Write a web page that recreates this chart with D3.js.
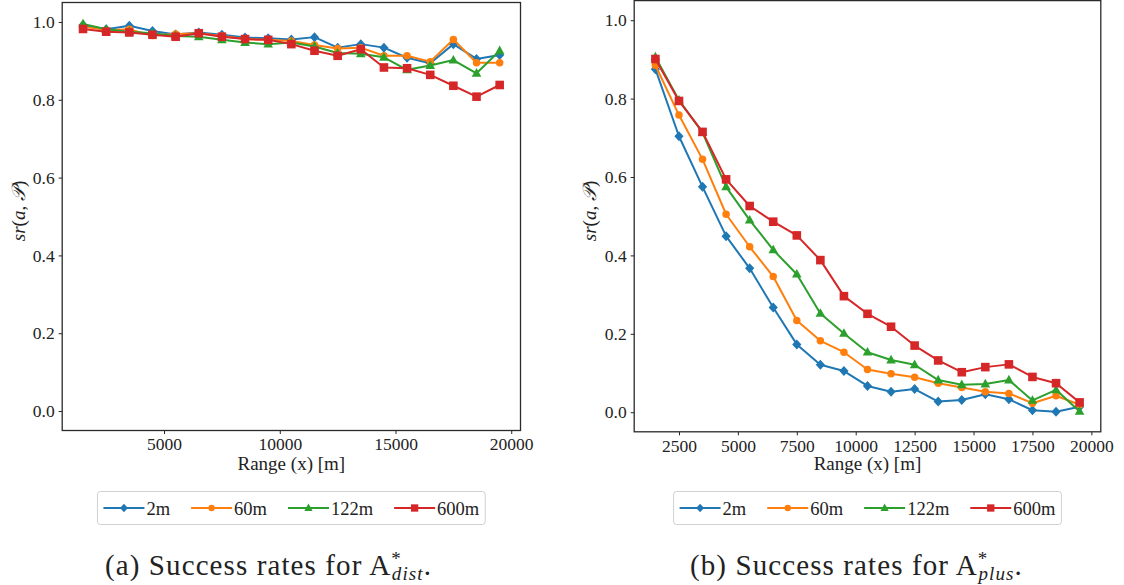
<!DOCTYPE html>
<html>
<head>
<meta charset="utf-8">
<script src="https://cdn.jsdelivr.net/npm/d3@7"></script>
<style>
  html, body { margin: 0; padding: 0; background: #fff; }
  svg { display: block; }
  text { font-family: "Liberation Serif", "DejaVu Serif", serif; fill: #222; }
</style>
</head>
<body>
<svg id="fig" width="1124" height="585"></svg>
<script>
// Range bins (m), shared by both panels
const ranges = [1500, 2500, 3500, 4500, 5500, 6500, 7500, 8500, 9500, 10500,
                11500, 12500, 13500, 14500, 15500, 16500, 17500, 18500, 19500];

const seriesNames = ["2m", "60m", "122m", "600m"];
const seriesColors = ["#1f77b4", "#ff7f0e", "#2ca02c", "#d62728"];
const seriesMarkers = ["diamond", "circle", "triangle", "square"];

// (a) A*_dist success rates
const dist2m   = [0.992, 0.981, 0.990, 0.977, 0.968, 0.973, 0.967, 0.960, 0.958, 0.955,
                  0.961, 0.934, 0.943, 0.934, 0.908, 0.894, 0.943, 0.905, 0.915];
const dist60m  = [0.988, 0.979, 0.981, 0.965, 0.969, 0.971, 0.964, 0.956, 0.954, 0.951,
                  0.941, 0.932, 0.934, 0.913, 0.913, 0.898, 0.955, 0.895, 0.895];
const dist122m = [0.995, 0.981, 0.975, 0.971, 0.964, 0.962, 0.954, 0.947, 0.943, 0.947,
                  0.937, 0.920, 0.918, 0.909, 0.877, 0.888, 0.902, 0.868, 0.926];
const dist600m = [0.982, 0.975, 0.973, 0.967, 0.962, 0.971, 0.962, 0.956, 0.954, 0.943,
                  0.926, 0.913, 0.930, 0.883, 0.881, 0.864, 0.836, 0.808, 0.838];

// (b) A*_plus success rates
const plus2m   = [0.875, 0.704, 0.575, 0.449, 0.367, 0.267, 0.173, 0.121, 0.105, 0.067,
                  0.052, 0.059, 0.027, 0.031, 0.046, 0.033, 0.005, 0.001, 0.014];
const plus60m  = [0.885, 0.758, 0.645, 0.505, 0.422, 0.346, 0.234, 0.182, 0.153, 0.109,
                  0.098, 0.089, 0.074, 0.063, 0.052, 0.048, 0.023, 0.042, 0.019];
const plus122m = [0.906, 0.796, 0.713, 0.575, 0.490, 0.414, 0.352, 0.252, 0.201, 0.153,
                  0.133, 0.121, 0.082, 0.070, 0.072, 0.082, 0.030, 0.057, 0.002];
const plus600m = [0.901, 0.794, 0.715, 0.594, 0.526, 0.486, 0.451, 0.388, 0.296, 0.251,
                  0.218, 0.170, 0.132, 0.102, 0.115, 0.122, 0.090, 0.074, 0.025];

const xTicksA = [5000, 10000, 15000, 20000];
const xTicksB = [2500, 5000, 7500, 10000, 12500, 15000, 17500, 20000];
const yTicks = [0.0, 0.2, 0.4, 0.6, 0.8, 1.0];

const svg = d3.select("#fig");
const FS = 17.5;

function markerPath(kind) {
  if (kind === "diamond") return "M0,-5L4.6,0L0,5L-4.6,0Z";
  if (kind === "circle") return d3.symbol(d3.symbolCircle, 44)();
  if (kind === "triangle") return "M0,-5.2L4.8,3.4L-4.8,3.4Z";
  return "M-4.3,-4.3H4.3V4.3H-4.3Z";
}

function drawPanel(cfg) {
  const x = d3.scaleLinear().domain([600, 20400]).range([cfg.left, cfg.right]);
  const y = d3.scaleLinear().domain([-0.05, 1.05]).range([cfg.bottom, cfg.top]);
  const g = svg.append("g");

  // axes
  const xAxis = d3.axisBottom(x).tickValues(cfg.xTicks).tickFormat(d3.format("d"))
    .tickSizeInner(3.5).tickSizeOuter(0).tickPadding(4);
  const yAxis = d3.axisLeft(y).tickValues(yTicks).tickFormat(d3.format(".1f"))
    .tickSizeInner(3.5).tickSizeOuter(0).tickPadding(4);

  const gx = g.append("g").attr("transform", `translate(0,${cfg.bottom})`).call(xAxis);
  const gy = g.append("g").attr("transform", `translate(${cfg.left},0)`).call(yAxis);
  [gx, gy].forEach(a => {
    a.select(".domain").remove();
    a.selectAll(".tick line").attr("stroke", "#222").attr("stroke-width", 1);
    a.selectAll(".tick text").attr("font-size", FS).attr("fill", "#222");
  });

  // series
  const lineGen = d3.line().x(d => x(d[0])).y(d => y(d[1]));
  cfg.series.forEach((vals, i) => {
    const pts = ranges.map((r, k) => [r, vals[k]]);
    g.append("path").datum(pts)
      .attr("d", lineGen).attr("fill", "none")
      .attr("stroke", seriesColors[i]).attr("stroke-width", 2)
      .attr("stroke-linejoin", "round");
    g.selectAll(null).data(pts).enter().append("path")
      .attr("transform", d => `translate(${x(d[0])},${y(d[1])})`)
      .attr("d", markerPath(seriesMarkers[i]))
      .attr("fill", seriesColors[i]);
  });

  // frame
  g.append("rect")
    .attr("x", cfg.left).attr("y", cfg.top)
    .attr("width", cfg.right - cfg.left).attr("height", cfg.bottom - cfg.top)
    .attr("fill", "none").attr("stroke", "#2a2a2a").attr("stroke-width", 1.3);

  // axis titles
  const cx = (cfg.left + cfg.right) / 2;
  g.append("text").attr("x", cx).attr("y", 470).attr("text-anchor", "middle")
    .attr("font-size", 19).text("Range (x) [m]");

  const yl = g.append("text")
    .attr("transform", `translate(${cfg.ylabelX},211) rotate(-90)`)
    .attr("text-anchor", "middle").attr("font-size", 19);
  yl.append("tspan").attr("font-style", "italic").text("sr");
  yl.append("tspan").text("(");
  yl.append("tspan").attr("font-style", "italic").text("a");
  yl.append("tspan").text(", ");
  yl.append("tspan").attr("font-family", "DejaVu Sans").attr("font-style", "italic").text("\u{1D4AB}");
  yl.append("tspan").text(")");

  // legend
  const lg = g.append("g");
  const handle = 41, gapText = 2, colGap = 21, pad = 6;
  const items = [];
  let cur = 0;
  seriesNames.forEach((name, i) => {
    const t = lg.append("text").attr("font-size", 18.5).attr("dominant-baseline", "central").text(name);
    const w = t.node().getComputedTextLength();
    items.push({t, w, start: cur});
    cur += handle + gapText + w + (i < seriesNames.length - 1 ? colGap : 0);
  });
  const totalW = cur + 2 * pad;
  const lx = cx - totalW / 2;
  const ly = cfg.legendY, lh = 33;
  lg.insert("rect", ":first-child")
    .attr("x", lx).attr("y", ly).attr("width", totalW).attr("height", lh)
    .attr("rx", 3).attr("fill", "#fff").attr("stroke", "#d0d0d0").attr("stroke-width", 1);
  items.forEach((it, i) => {
    const sx = lx + pad + it.start, my = ly + lh / 2;
    lg.append("line").attr("x1", sx).attr("x2", sx + handle).attr("y1", my).attr("y2", my)
      .attr("stroke", seriesColors[i]).attr("stroke-width", 2);
    lg.append("path").attr("transform", `translate(${sx + handle / 2},${my}) scale(0.85)`)
      .attr("d", markerPath(seriesMarkers[i])).attr("fill", seriesColors[i]);
    it.t.attr("x", sx + handle + gapText).attr("y", my + 0.5);
  });

  // caption
  const cap = svg.append("text").attr("x", cfg.capX).attr("y", 575)
    .attr("font-size", 29).attr("letter-spacing", 1.1);
  cap.append("tspan").text(cfg.capLabel + " Success rates for A");
  cap.append("tspan").attr("dy", -10).attr("font-size", 19).text("*");
  cap.append("tspan").attr("dx", -10).attr("dy", 15).attr("font-size", 19)
    .attr("font-style", "italic").text(cfg.capSub);
  cap.append("tspan").attr("dy", -5).text(".");
}

drawPanel({
  left: 62.2, right: 520.5, top: 2.5, bottom: 430.5,
  xTicks: xTicksA, series: [dist2m, dist60m, dist122m, dist600m],
  ylabelX: 25, legendY: 491.5, capX: 105, capLabel: "(a)", capSub: "dist"
});
drawPanel({
  left: 634.2, right: 1100.8, top: 0.6, bottom: 431.8,
  xTicks: xTicksB, series: [plus2m, plus60m, plus122m, plus600m],
  ylabelX: 596, legendY: 491.5, capX: 690, capLabel: "(b)", capSub: "plus"
});
</script>
</body>
</html>
